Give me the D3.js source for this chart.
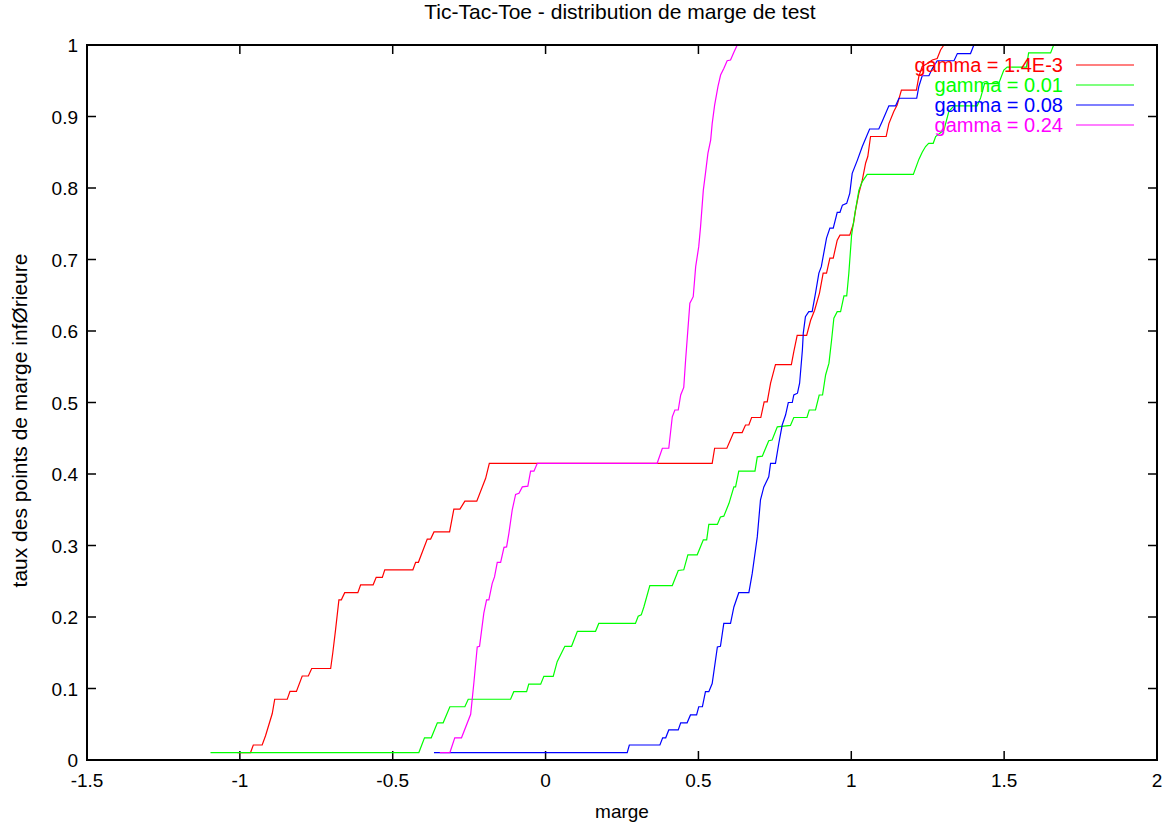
<!DOCTYPE html>
<html>
<head>
<meta charset="utf-8">
<script src="https://cdn.jsdelivr.net/npm/d3@7"></script>
<style>
  body { margin: 0; background: #fff; }
  text { font-family: "Liberation Sans", Arial, sans-serif; fill: #000; }
</style>
</head>
<body>
<div id="chart"></div>
<script>
// marge (x) vs taux des points (y), one array per gamma
const gamma14e3 = [
  [-1.008, 0.0104], [-0.965, 0.0104], [-0.956, 0.021], [-0.927, 0.021], [-0.916, 0.034],
  [-0.894, 0.065], [-0.886, 0.085], [-0.845, 0.085], [-0.836, 0.096], [-0.815, 0.096],
  [-0.796, 0.1175], [-0.776, 0.1175], [-0.765, 0.128], [-0.703, 0.128], [-0.696, 0.150],
  [-0.687, 0.182], [-0.676, 0.224], [-0.668, 0.224], [-0.657, 0.234], [-0.614, 0.234],
  [-0.605, 0.245], [-0.564, 0.245], [-0.554, 0.2555], [-0.534, 0.2555], [-0.526, 0.266],
  [-0.434, 0.266], [-0.425, 0.2765], [-0.416, 0.2765], [-0.387, 0.309], [-0.376, 0.309],
  [-0.365, 0.319], [-0.314, 0.319], [-0.300, 0.351], [-0.280, 0.351], [-0.264, 0.362],
  [-0.225, 0.362], [-0.196, 0.394], [-0.184, 0.415], [0.545, 0.415], [0.553, 0.436],
  [0.593, 0.436], [0.615, 0.458], [0.643, 0.458], [0.654, 0.4685], [0.665, 0.4685],
  [0.674, 0.479], [0.704, 0.479], [0.715, 0.501], [0.725, 0.501], [0.736, 0.527],
  [0.747, 0.545], [0.752, 0.553], [0.804, 0.553], [0.812, 0.571], [0.823, 0.594],
  [0.854, 0.594], [0.867, 0.615], [0.880, 0.629], [0.896, 0.653], [0.908, 0.681],
  [0.919, 0.681], [0.930, 0.702], [0.941, 0.702], [0.954, 0.727], [0.963, 0.734],
  [0.995, 0.734], [1.007, 0.750], [1.014, 0.769], [1.025, 0.793], [1.036, 0.811],
  [1.047, 0.835], [1.054, 0.844], [1.063, 0.872], [1.114, 0.872], [1.123, 0.890],
  [1.139, 0.907], [1.150, 0.916], [1.164, 0.937], [1.213, 0.937], [1.221, 0.956],
  [1.232, 0.970], [1.249, 0.974], [1.265, 0.979], [1.281, 0.981], [1.292, 0.993],
  [1.303, 1.0]
];

const gamma001 = [
  [-1.096, 0.0104], [-0.4145, 0.0104], [-0.396, 0.031], [-0.374, 0.031], [-0.354, 0.052],
  [-0.335, 0.052], [-0.313, 0.0745], [-0.264, 0.0745], [-0.253, 0.085], [-0.1145, 0.085],
  [-0.104, 0.0955], [-0.062, 0.0955], [-0.055, 0.106], [-0.016, 0.106], [-0.0056, 0.117],
  [0.025, 0.117], [0.038, 0.1375], [0.063, 0.159], [0.085, 0.159], [0.104, 0.180],
  [0.1635, 0.180], [0.174, 0.191], [0.294, 0.191], [0.303, 0.201], [0.313, 0.203],
  [0.3215, 0.214], [0.341, 0.244], [0.4145, 0.244], [0.434, 0.265], [0.452, 0.266],
  [0.4655, 0.287], [0.496, 0.287], [0.516, 0.308], [0.527, 0.308], [0.534, 0.3295],
  [0.562, 0.3295], [0.572, 0.340], [0.583, 0.341], [0.600, 0.359], [0.616, 0.382],
  [0.6215, 0.382], [0.632, 0.404], [0.685, 0.404], [0.6925, 0.424], [0.709, 0.425],
  [0.730, 0.4465], [0.741, 0.4475], [0.758, 0.466], [0.801, 0.468], [0.812, 0.479],
  [0.855, 0.479], [0.8625, 0.4895], [0.883, 0.4895], [0.895, 0.5105], [0.906, 0.5105],
  [0.916, 0.5385], [0.927, 0.555], [0.9355, 0.587], [0.943, 0.618], [0.954, 0.627],
  [0.965, 0.627], [0.976, 0.649], [0.985, 0.649], [0.992, 0.681], [1.001, 0.734],
  [1.012, 0.765], [1.025, 0.797], [1.036, 0.809], [1.052, 0.819], [1.203, 0.819],
  [1.221, 0.840], [1.232, 0.850], [1.243, 0.858], [1.253, 0.8625], [1.268, 0.8625],
  [1.276, 0.872], [1.303, 0.881], [1.319, 0.907], [1.336, 0.915], [1.412, 0.915],
  [1.423, 0.926], [1.436, 0.946], [1.482, 0.946], [1.499, 0.965], [1.510, 0.969],
  [1.573, 0.969], [1.580, 0.989], [1.652, 0.989], [1.662, 1.0]
];

const gamma008 = [
  [-0.365, 0.0104], [0.267, 0.0104], [0.274, 0.021], [0.374, 0.021], [0.383, 0.031],
  [0.393, 0.031], [0.403, 0.042], [0.434, 0.042], [0.442, 0.052], [0.463, 0.052],
  [0.474, 0.063], [0.494, 0.063], [0.501, 0.0745], [0.513, 0.0745], [0.523, 0.0955],
  [0.534, 0.0955], [0.545, 0.107], [0.562, 0.158], [0.572, 0.159], [0.583, 0.191],
  [0.605, 0.191], [0.616, 0.214], [0.632, 0.234], [0.665, 0.234], [0.676, 0.261],
  [0.6925, 0.312], [0.703, 0.364], [0.714, 0.382], [0.730, 0.396], [0.736, 0.415],
  [0.752, 0.415], [0.763, 0.443], [0.774, 0.4685], [0.785, 0.4825], [0.794, 0.500],
  [0.807, 0.500], [0.812, 0.5105], [0.824, 0.513], [0.831, 0.527], [0.840, 0.573],
  [0.843, 0.597], [0.850, 0.620], [0.861, 0.627], [0.872, 0.627], [0.883, 0.653],
  [0.894, 0.681], [0.902, 0.690], [0.910, 0.709], [0.919, 0.730], [0.930, 0.744],
  [0.941, 0.744], [0.954, 0.766], [0.963, 0.766], [0.971, 0.776], [0.985, 0.7785],
  [0.995, 0.7925], [1.003, 0.8205], [1.020, 0.839], [1.036, 0.858], [1.060, 0.8825],
  [1.090, 0.8825], [1.101, 0.893], [1.123, 0.915], [1.145, 0.915], [1.156, 0.9255],
  [1.214, 0.9255], [1.221, 0.942], [1.232, 0.957], [1.254, 0.957], [1.265, 0.967],
  [1.281, 0.978], [1.336, 0.978], [1.347, 0.988], [1.390, 0.988], [1.401, 1.0]
];

const gamma024 = [
  [-0.346, 0.0104], [-0.313, 0.0104], [-0.297, 0.031], [-0.275, 0.031], [-0.245, 0.064],
  [-0.2345, 0.108], [-0.2235, 0.158], [-0.216, 0.159], [-0.202, 0.2055], [-0.193, 0.224],
  [-0.1855, 0.224], [-0.1745, 0.247], [-0.167, 0.256], [-0.158, 0.2765], [-0.147, 0.2765],
  [-0.136, 0.2975], [-0.1275, 0.298], [-0.120, 0.317], [-0.109, 0.350], [-0.098, 0.3715],
  [-0.087, 0.373], [-0.076, 0.382], [-0.058, 0.383], [-0.049, 0.404], [-0.038, 0.404],
  [-0.027, 0.415], [0.365, 0.415], [0.382, 0.436], [0.403, 0.436], [0.4145, 0.480],
  [0.423, 0.4895], [0.434, 0.4895], [0.442, 0.5105], [0.452, 0.521], [0.458, 0.559],
  [0.472, 0.639], [0.483, 0.648], [0.491, 0.690], [0.501, 0.718], [0.507, 0.746],
  [0.516, 0.797], [0.523, 0.8205], [0.531, 0.8485], [0.540, 0.867], [0.545, 0.890],
  [0.553, 0.916], [0.564, 0.942], [0.5725, 0.958], [0.583, 0.967], [0.594, 0.978],
  [0.605, 0.979], [0.616, 0.990], [0.627, 1.0]
];

const seriesNames = ['gamma = 1.4E-3', 'gamma = 0.01', 'gamma = 0.08', 'gamma = 0.24'];
const seriesColors = ['#ff0000', '#00ff00', '#0000ff', '#ff00ff'];
const seriesData = [gamma14e3, gamma001, gamma008, gamma024];

const xTicks = [-1.5, -1, -0.5, 0, 0.5, 1, 1.5, 2];
const yTicks = [0, 0.1, 0.2, 0.3, 0.4, 0.5, 0.6, 0.7, 0.8, 0.9, 1];

const width = 1164, height = 823;
const plotLeft = 87, plotRight = 1157, plotTop = 45, plotBottom = 760;

const x = d3.scaleLinear().domain([-1.5, 2]).range([plotLeft, plotRight]);
const y = d3.scaleLinear().domain([0, 1]).range([plotBottom, plotTop]);

const svg = d3.select('#chart')
  .append('svg')
    .attr('width', width)
    .attr('height', height);

// title
svg.append('text')
  .attr('x', 620)
  .attr('y', 19)
  .attr('text-anchor', 'middle')
  .style('font-size', '21px')
  .text('Tic-Tac-Toe - distribution de marge de test');

// ticks, gnuplot style: inward and mirrored
const tickLen = 9;
const ticks = svg.append('g').attr('stroke', '#000').attr('stroke-width', 1.5);
xTicks.slice(1, -1).forEach(t => {
  ticks.append('line').attr('x1', x(t)).attr('x2', x(t)).attr('y1', plotBottom).attr('y2', plotBottom - tickLen);
  ticks.append('line').attr('x1', x(t)).attr('x2', x(t)).attr('y1', plotTop).attr('y2', plotTop + tickLen);
});
yTicks.slice(1, -1).forEach(t => {
  ticks.append('line').attr('x1', plotLeft).attr('x2', plotLeft + tickLen).attr('y1', y(t)).attr('y2', y(t));
  ticks.append('line').attr('x1', plotRight).attr('x2', plotRight - tickLen).attr('y1', y(t)).attr('y2', y(t));
});

svg.append('g')
  .selectAll('text')
  .data(xTicks)
  .enter()
  .append('text')
    .attr('x', d => x(d))
    .attr('y', plotBottom + 27)
    .attr('text-anchor', 'middle')
    .style('font-size', '19px')
    .text(d => d);

svg.append('g')
  .selectAll('text')
  .data(yTicks)
  .enter()
  .append('text')
    .attr('x', plotLeft - 9)
    .attr('y', d => y(d) + 7)
    .attr('text-anchor', 'end')
    .style('font-size', '19px')
    .text(d => d);

// axis titles
svg.append('text')
  .attr('x', 622)
  .attr('y', 818)
  .attr('text-anchor', 'middle')
  .style('font-size', '19px')
  .text('marge');

svg.append('text')
  .attr('transform', `translate(27, ${(plotTop + plotBottom) / 2 + 18}) rotate(-90)`)
  .attr('text-anchor', 'middle')
  .style('font-size', '21px')
  .text('taux des points de marge infØrieure');

// curves
const line = d3.line()
  .x(d => x(d[0]))
  .y(d => y(d[1]));

svg.append('g')
  .selectAll('path')
  .data(seriesData)
  .enter()
  .append('path')
    .attr('d', d => line(d))
    .attr('fill', 'none')
    .attr('stroke', (d, i) => seriesColors[i])
    .attr('stroke-width', 1.2);

// legend
const legend = svg.append('g')
  .selectAll('g')
  .data(seriesNames)
  .enter()
  .append('g')
    .attr('transform', (d, i) => `translate(0, ${65 + i * 20})`);

legend.append('text')
  .attr('x', 1063)
  .attr('y', 7)
  .attr('text-anchor', 'end')
  .style('font-size', '20px')
  .style('fill', (d, i) => seriesColors[i])
  .text(d => d);

legend.append('line')
  .attr('x1', 1076)
  .attr('x2', 1134)
  .attr('y1', 0)
  .attr('y2', 0)
  .attr('stroke', (d, i) => seriesColors[i])
  .attr('stroke-width', 1.2);

// frame
svg.append('rect')
  .attr('x', plotLeft)
  .attr('y', plotTop)
  .attr('width', plotRight - plotLeft)
  .attr('height', plotBottom - plotTop)
  .attr('fill', 'none')
  .attr('stroke', '#000')
  .attr('stroke-width', 2);
</script>
</body>
</html>
